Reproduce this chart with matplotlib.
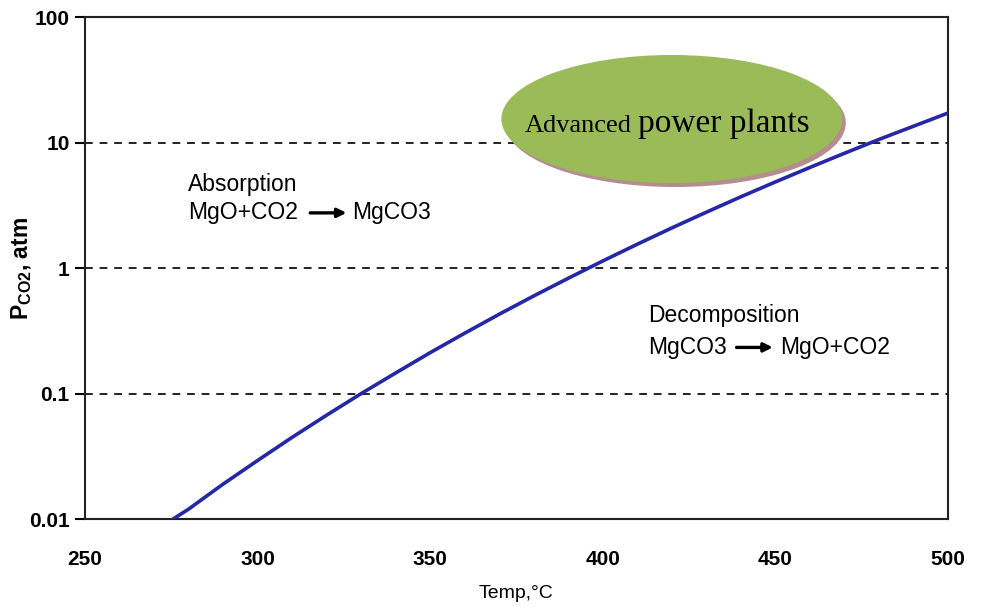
import matplotlib
matplotlib.use('Agg')
import matplotlib.pyplot as plt
from matplotlib.patches import Ellipse

# equilibrium curve (temperature in C, P_CO2 in atm)
temp = [275.5, 280, 290, 300, 310, 320, 330, 340, 350, 360, 370, 380,
        390, 400, 410, 420, 430, 440, 450, 460, 470, 480, 490, 500]
p_co2 = [0.010, 0.012, 0.019, 0.0293, 0.0448, 0.0673, 0.100, 0.146, 0.212,
         0.303, 0.429, 0.60, 0.83, 1.14, 1.55, 2.09, 2.79, 3.70, 4.86, 6.34,
         8.22, 10.6, 13.5, 17.2]

xticks = [250, 300, 350, 400, 450, 500]
yticks = [0.01, 0.1, 1, 10, 100]
ytick_labels = ['0.01', '0.1', '1', '10', '100']
grid_levels = [0.1, 1, 10]

sans = ['Liberation Sans', 'DejaVu Sans']
narrow = ['Liberation Sans Narrow', 'Liberation Sans', 'DejaVu Sans']
serif = ['Liberation Serif', 'DejaVu Serif']

fig = plt.figure(figsize=(9.81, 6.10), dpi=100)
ax = fig.add_axes([0.0866, 0.149, 0.8798, 0.823])

ax.set_yscale('log')
ax.set_xlim(250, 500)
ax.set_ylim(0.01, 100)

# dashed horizontal grid lines
for g in grid_levels:
    ax.axhline(g, color='#222222', lw=1.4, ls=(0, (4, 3.5)), zorder=1)

# ellipse with shadow
shadow = Ellipse((0.684, 0.789), 0.395, 0.255, transform=ax.transAxes,
                 facecolor='#b48e8c', edgecolor='none', zorder=2)
ax.add_patch(shadow)
ell = Ellipse((0.680, 0.797), 0.395, 0.255, transform=ax.transAxes,
              facecolor='#9bbb59', edgecolor='none', zorder=3)
ax.add_patch(ell)
ax.text(0.634, 0.772, 'Advanced', transform=ax.transAxes, ha='right',
        va='baseline', fontsize=19, family=serif, zorder=4)
ax.text(0.641, 0.772, 'power plants', transform=ax.transAxes, ha='left',
        va='baseline', fontsize=24, family=serif, zorder=4)

# curve
ax.plot(temp, p_co2, color='#2626a8', lw=2.6, zorder=5)

# reaction annotations
def reaction(x0, y_title, y_eq, title, left, right, pos):
    ax.text(x0, y_title, title, transform=ax.transAxes, fontsize=16.5,
            family=sans, va='center', ha='left')
    ax.text(x0, y_eq, left, transform=ax.transAxes, fontsize=16.5,
            family=sans, va='center', ha='left')
    ax.text(x0 + pos[2], y_eq, right, transform=ax.transAxes, fontsize=16.5,
            family=sans, va='center', ha='left')
    ax.annotate('', xy=(x0 + pos[1], y_eq), xytext=(x0 + pos[0], y_eq),
                xycoords='axes fraction',
                arrowprops=dict(arrowstyle='-|>', color='black', lw=2.4,
                                mutation_scale=13, shrinkA=0, shrinkB=0))

reaction(0.119, 0.667, 0.610, 'Absorption', 'MgO+CO2', 'MgCO3',
         (0.142, 0.184, 0.190))
reaction(0.652, 0.405, 0.342, 'Decomposition', 'MgCO3', 'MgO+CO2',
         (0.103, 0.145, 0.153))

# axes styling
for s in ax.spines.values():
    s.set_linewidth(1.5)
    s.set_color('#222222')

ax.set_xticks(xticks)
ax.set_xticklabels([str(v) for v in xticks], family=narrow, fontsize=15,
                   fontweight='bold')
ax.tick_params(axis='x', length=0, pad=22)
ax.set_yticks(yticks)
ax.set_yticklabels(ytick_labels, family=sans, fontsize=15, fontweight='bold')
ax.tick_params(axis='y', direction='out', length=7, width=1.5, pad=4)
ax.minorticks_off()

ax.set_xlabel('Temp,°C', family=narrow, fontsize=14, labelpad=12)
ax.set_ylabel(r'P$_{\mathregular{CO2}}$, atm', family=sans, fontsize=16.5,
              fontweight='bold')
ax.yaxis.set_label_coords(-0.059, 0.5)

fig.savefig('out.png', dpi=100)
